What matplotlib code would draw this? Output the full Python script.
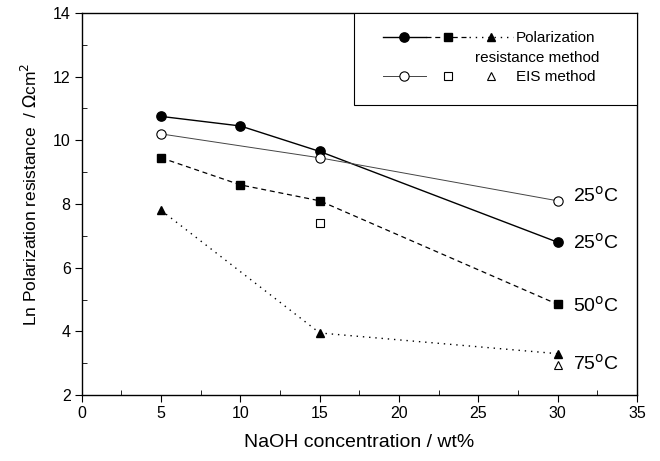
import matplotlib
matplotlib.use('Agg')
import matplotlib.pyplot as plt
from matplotlib.legend_handler import HandlerTuple
from matplotlib.lines import Line2D
from matplotlib.patches import Rectangle
from matplotlib.ticker import MultipleLocator

plt.rcParams['font.family'] = ['Liberation Sans', 'DejaVu Sans']

# polarization resistance method
conc_pr = [5, 10, 15, 30]
pr_25 = [10.75, 10.45, 9.65, 6.8]
pr_50 = [9.45, 8.6, 8.1, 4.85]
conc_pr75 = [5, 15, 30]
pr_75 = [7.8, 3.95, 3.3]

# EIS method
conc_eis25 = [5, 15, 30]
eis_25 = [10.2, 9.45, 8.1]
conc_eis50 = [15]
eis_50 = [7.4]
conc_eis75 = [30]
eis_75 = [2.95]

temp_labels = ['25$^{\\rm o}$C', '25$^{\\rm o}$C', '50$^{\\rm o}$C', '75$^{\\rm o}$C']

fig = plt.figure(figsize=(6.6, 4.61), dpi=100)
ax = fig.add_axes([0.124, 0.143, 0.841, 0.829])

h1, = ax.plot(conc_pr, pr_25, '-', color='black', lw=1.0, marker='o', ms=6.7)
h2, = ax.plot(conc_pr, pr_50, '--', color='black', lw=0.9, marker='s', ms=5.8, dashes=(4, 3))
h3, = ax.plot(conc_pr75, pr_75, ':', color='black', lw=1.0, marker='^', ms=6.3, dashes=(1, 3.5))
h4, = ax.plot(conc_eis25, eis_25, '-', color='#444444', lw=0.7, marker='o', ms=6.7,
              mfc='white', mec='black', mew=0.8)
h5, = ax.plot(conc_eis50, eis_50, ls='none', marker='s', ms=6, mfc='white', mec='black', mew=0.8)
h6, = ax.plot(conc_eis75, eis_75, ls='none', marker='^', ms=6, mfc='white', mec='black', mew=0.8)

# temperature labels at the 30 wt% end
ends = [eis_25[-1], pr_25[-1], pr_50[-1], (pr_75[-1] + eis_75[-1]) / 2]
offs = [4, 0, -1, -3]
for lab, yv, dy in zip(temp_labels, ends, offs):
    ax.annotate(lab, (30, yv), xytext=(11, dy), textcoords='offset points',
                va='center', ha='left', fontsize=14)

ax.set_xlim(0, 35)
ax.set_ylim(2, 14)
ax.xaxis.set_major_locator(MultipleLocator(5))
ax.xaxis.set_minor_locator(MultipleLocator(2.5))
ax.yaxis.set_major_locator(MultipleLocator(2))
ax.yaxis.set_minor_locator(MultipleLocator(1))
ax.tick_params(which='major', direction='out', length=5, labelsize=11.5, pad=3)
ax.tick_params(which='minor', direction='in', length=3.5)
for s in ax.spines.values():
    s.set_linewidth(1.0)

ax.set_xlabel('NaOH concentration / wt%', fontsize=14)
ax.set_ylabel('Ln Polarization resistance  / $\\Omega$cm$^2$', fontsize=12.5)
ax.xaxis.set_label_coords(0.5, -0.102)
ax.yaxis.set_label_coords(-0.076, 0.526)

# legend box
ax.add_patch(Rectangle((0.49, 0.759), 0.51, 0.241, transform=ax.transAxes,
                       facecolor='white', edgecolor='black', lw=0.8, zorder=4))
blank = Line2D([], [], ls='none')
leg = ax.legend([(h1, h2, h3), blank, (h4, h5, h6)],
                ['Polarization', ' ', 'EIS method'],
                handler_map={tuple: HandlerTuple(ndivide=None, pad=0.0)},
                handlelength=8.5, handletextpad=0.2, loc='upper left',
                bbox_to_anchor=(0.542, 0.952), frameon=False, borderpad=0,
                borderaxespad=0, fontsize=11, labelspacing=0.35)
leg.set_zorder(5)
# second line of the first legend label, right-aligned as in the original
ax.text(0.933, 0.882, 'resistance method', transform=ax.transAxes, ha='right',
        va='center', fontsize=11, zorder=6)

fig.savefig('out.png', dpi=100)
